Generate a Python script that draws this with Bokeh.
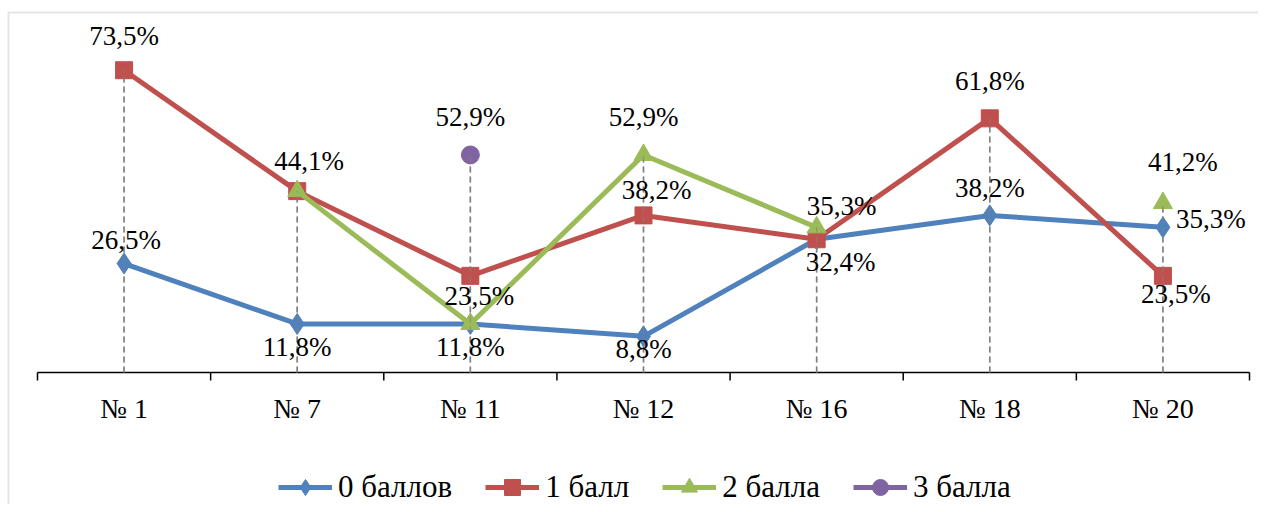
import numpy as np
from bokeh.plotting import figure
from bokeh.models import (ColumnDataSource, Range1d, Legend, LegendItem, BoxAnnotation)
from bokeh.core.properties import value
from bokeh.embed import file_html
from bokeh.resources import INLINE

# ---- data ----
categories = ["№ 1", "№ 7", "№ 11", "№ 12", "№ 16", "№ 18", "№ 20"]
series_names = ["0 баллов", "1 балл", "2 балла", "3 балла"]
s0 = [26.5, 11.8, 11.8, 8.8, 32.4, 38.2, 35.3]
s1 = [73.5, 44.1, 23.5, 38.2, 32.4, 61.8, 23.5]
s2 = [np.nan, 44.1, 11.8, 52.9, 35.3, np.nan, 41.2]
s3 = [np.nan, np.nan, 52.9, np.nan, np.nan, np.nan, np.nan]
series_values = [s0, s1, s2, s3]

# ---- style ----
colors = ["#4F81BD", "#C0504D", "#9BBB59", "#8064A2"]
markers = ["diamond", "square", "triangle", "circle"]
msizes = [21, 17, 19, 18]
FONT = "Liberation Serif"

# data labels: (series index, category index, dx, dy, align)
label_places = [
    (0, 0, 2, -24, "center"), (0, 1, 0, 23, "center"), (0, 2, 0, 23, "center"),
    (0, 3, 0, 13, "center"), (0, 4, 24, 23, "center"), (0, 5, 0, -27, "center"),
    (0, 6, 13, -8, "left"),
    (1, 0, 0, -34, "center"), (1, 1, 12, -30, "center"), (1, 2, 9, 20, "center"),
    (1, 3, 13, -25, "center"), (1, 5, 0, -37, "center"), (1, 6, 13, 18, "center"),
    (2, 3, 0, -38, "center"), (2, 4, 25, -21, "center"), (2, 6, 20, -41, "center"),
    (3, 2, 0, -38, "center"),
]

n = len(categories)
xs = [i + 0.5 for i in range(n)]
bounds = list(range(n + 1))

PX_X = 1212 / n          # px per category
PX_Y = 4.1125            # px per percent
W, H = 1258, 504
AX_L, AXIS_Y = 37, 372   # pixel position of the category axis start and of 0 %

p = figure(width=W, height=H, output_backend="svg", toolbar_location=None,
           x_range=Range1d(-AX_L / PX_X, (W - AX_L) / PX_X),
           y_range=Range1d(-(H - AXIS_Y) / PX_Y, AXIS_Y / PX_Y),
           x_axis_location=None, y_axis_location=None,
           min_border_left=0, min_border_right=0, min_border_top=0, min_border_bottom=0)
p.outline_line_color = None
p.xgrid.visible = False
p.ygrid.visible = False

# outer chart border (top and left edges visible)
p.add_layout(BoxAnnotation(left=(8 - AX_L) / PX_X, right=n + 2,
                           top=(AXIS_Y - 12) / PX_Y, bottom=-100,
                           fill_color=None, line_color="#A6A6A6", line_width=2))

# category axis: line, boundary ticks, labels
p.segment(x0=[0], y0=[0], x1=[n], y1=[0], line_color="black", line_width=1.5)
p.segment(x0=bounds, y0=[0] * (n + 1), x1=bounds, y1=[-8 / PX_Y] * (n + 1),
          line_color="black", line_width=1.5)
p.text(x=xs, y=[0] * n, text=categories, y_offset=36, text_align="center",
       text_baseline="middle", text_font=value(FONT), text_font_size="28px",
       text_color="black")

# drop lines
tops = np.nanmax(np.array(series_values, dtype=float), axis=0)
p.segment(x0=xs, y0=[0] * n, x1=xs, y1=list(tops), line_color="#808080",
          line_width=1.5, line_dash="6 4")

items = []
for k, vals in enumerate(series_values):
    src = ColumnDataSource(dict(x=xs, y=vals))
    ln = p.line("x", "y", source=src, line_color=colors[k], line_width=5)
    sc = p.scatter("x", "y", source=src, marker=markers[k], size=msizes[k],
                   fill_color=colors[k], line_color=colors[k])
    items.append(LegendItem(label=series_names[k], renderers=[ln, sc]))

# drop lines visible over markers
p.segment(x0=xs, y0=[0] * n, x1=xs, y1=list(tops), line_color="#808080",
          line_width=1.5, line_dash="6 4", line_alpha=0.6)

for align in ["center", "left"]:
    sel = [lp for lp in label_places if lp[4] == align]
    lx = [xs[c] for s, c, dx, dy, a in sel]
    ly = [series_values[s][c] for s, c, dx, dy, a in sel]
    lt = [f"{series_values[s][c]:.1f}".replace(".", ",") + "%" for s, c, dx, dy, a in sel]
    ldx = [dx for s, c, dx, dy, a in sel]
    ldy = [dy for s, c, dx, dy, a in sel]
    src = ColumnDataSource(dict(x=lx, y=ly, t=lt, dx=ldx, dy=ldy))
    p.text("x", "y", text="t", source=src, x_offset="dx", y_offset="dy",
           text_align=align, text_baseline="middle", text_font=value(FONT),
           text_font_size="27px", text_color="black")

legend = Legend(items=items, orientation="horizontal", location=(278, -3),
                glyph_width=54, glyph_height=40, label_standoff=6, spacing=33,
                padding=0, margin=0, border_line_color=None,
                background_fill_alpha=0,
                label_text_font=FONT, label_text_font_size="31px",
                label_text_color="black", label_height=40)
p.add_layout(legend, "center")

open("out.html", "w").write(file_html(p, INLINE))
